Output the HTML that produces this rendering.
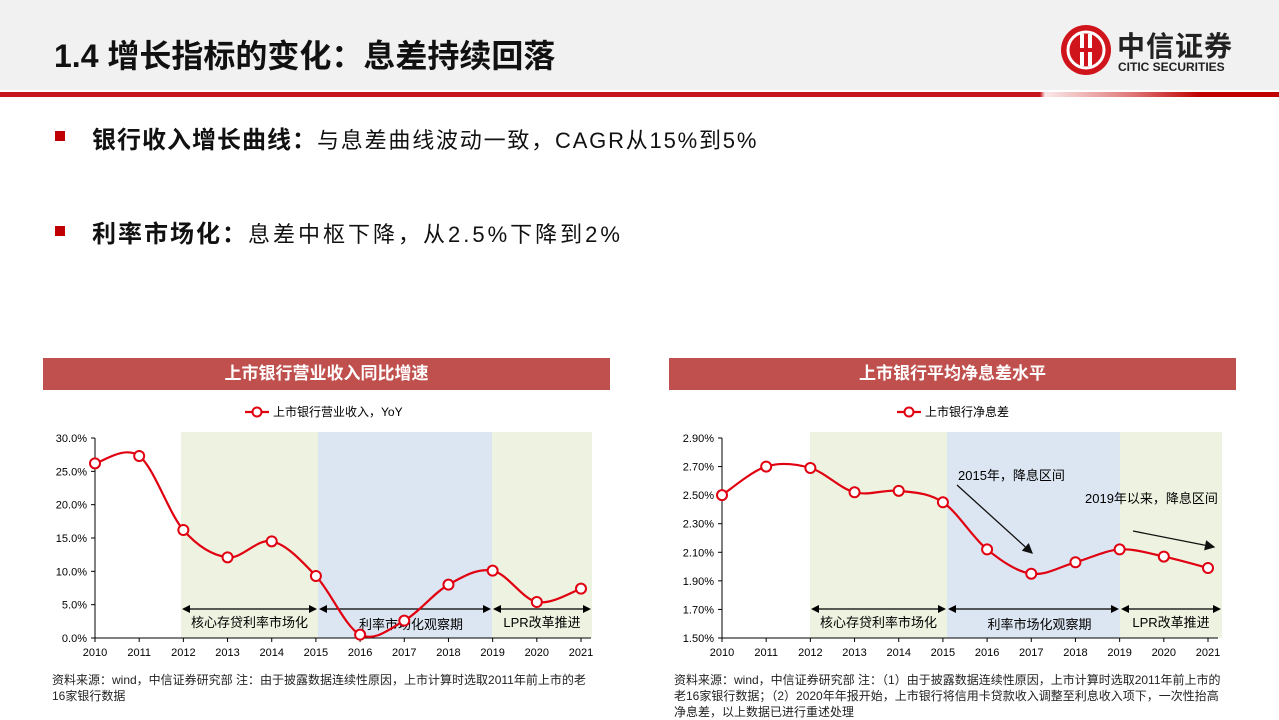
<!DOCTYPE html>
<html><head><meta charset="utf-8">
<style>
body{margin:0;width:1279px;height:719px;background:#fff;font-family:"Liberation Sans","Noto Sans CJK SC",sans-serif;position:relative;overflow:hidden}
.abs{position:absolute}
.lt{font-weight:normal;letter-spacing:1.8px}
</style></head>
<body>
<div class="abs" style="left:0;top:0;width:1279px;height:90px;background:#f1f1f1"></div>
<div class="abs" style="left:0;top:92px;width:1279px;height:5px;background:linear-gradient(90deg,#c8161d 0,#c8161d 1040px,#fbe9e9 1045px,#e07a7a 1130px,#c00000 1200px,#c00000 1279px)"></div>
<div class="abs" style="left:54px;top:31px;font-size:32px;font-weight:bold;color:#111">1.4 增长指标的变化：息差持续回落</div>
<svg class="abs" style="left:1060px;top:24px" width="52" height="52" viewBox="0 0 52 52"><circle cx="26" cy="26" r="25" fill="#d0141c"/><circle cx="26" cy="26" r="18" fill="none" stroke="#fff" stroke-width="3"/><rect x="20" y="10" width="4" height="32" fill="#fff"/><rect x="28" y="10" width="4" height="32" fill="#fff"/><rect x="12" y="24" width="28" height="4" fill="#d0141c"/></svg>
<div class="abs" style="left:1117px;top:25px;font-size:28px;font-weight:bold;color:#222;letter-spacing:1px">中信证券</div>
<div class="abs" style="left:1118px;top:60px;font-size:12px;font-weight:bold;color:#222">CITIC SECURITIES</div>

<div class="abs" style="left:55px;top:131px;width:10px;height:10px;background:#c00000"></div>
<div class="abs" style="left:92px;top:120px;font-size:22px;color:#111;white-space:nowrap"><b style="font-size:24px;letter-spacing:1px">银行收入增长曲线：</b><span class="lt">与息差曲线波动一致，CAGR从15%到5%</span></div>
<div class="abs" style="left:55px;top:226px;width:10px;height:10px;background:#c00000"></div>
<div class="abs" style="left:92px;top:214px;font-size:22px;color:#111;white-space:nowrap"><b style="font-size:24px;letter-spacing:2px">利率市场化：</b><span class="lt" style="letter-spacing:3px">息差中枢下降，从2.5%下降到2%</span></div>

<div class="abs" style="left:43px;top:358px;width:567px;height:32px;background:#c0504d;color:#fff;font-weight:bold;font-size:17px;text-align:center;line-height:32px">上市银行营业收入同比增速</div>
<div class="abs" style="left:669px;top:358px;width:567px;height:32px;background:#c0504d;color:#fff;font-weight:bold;font-size:17px;text-align:center;line-height:32px">上市银行平均净息差水平</div>

<svg class="abs" id="svg" style="left:0;top:0" width="1279" height="719"></svg>

<div class="abs" style="left:52px;top:672px;width:545px;font-size:12px;line-height:16px;color:#222">资料来源：wind，中信证券研究部 注：由于披露数据连续性原因，上市计算时选取2011年前上市的老16家银行数据</div>
<div class="abs" style="left:674px;top:672px;width:548px;font-size:12px;line-height:16px;color:#222">资料来源：wind，中信证券研究部 注：（1）由于披露数据连续性原因，上市计算时选取2011年前上市的老16家银行数据；（2）2020年年报开始，上市银行将信用卡贷款收入调整至利息收入项下，一次性抬高净息差，以上数据已进行重述处理</div>

<script>
const years=['2010','2011','2012','2013','2014','2015','2016','2017','2018','2019','2020','2021'];
const revenueYoY=[26.2,27.3,16.2,12.1,14.5,9.3,0.5,2.6,8.0,10.1,5.4,7.4];
const nimValues=[2.50,2.70,2.69,2.52,2.53,2.45,2.12,1.95,2.03,2.12,2.07,1.99];
const ticks1=[0,5,10,15,20,25,30];
const tickLabels1=['0.0%','5.0%','10.0%','15.0%','20.0%','25.0%','30.0%'];
const ticks2=[1.5,1.7,1.9,2.1,2.3,2.5,2.7,2.9];
const tickLabels2=['1.50%','1.70%','1.90%','2.10%','2.30%','2.50%','2.70%','2.90%'];
const phases=['核心存贷利率市场化','利率市场化观察期','LPR改革推进'];

const NS='http://www.w3.org/2000/svg';
const svg=document.getElementById('svg');
function mk(t,a,p){const e=document.createElementNS(NS,t);for(const k in a)e.setAttribute(k,a[k]);(p||svg).appendChild(e);return e;}

function drawChart(o){
  const g=mk('g',{});
  
  
  const x=i=>o.x0+i*(o.x1-o.x0)/(years.length-1);
  const y=v=>o.yb-(v-o.vmin)/(o.vmax-o.vmin)*(o.yb-o.yt);
  const bands=[[o.b[0],o.b[1],'#eef2e1'],[o.b[1],o.b[2],'#dce6f2'],[o.b[2],o.b[3],'#eef2e1']];
  bands.forEach((b,i)=>{const r=mk('rect',{x:b[0],y:o.yt-6,width:b[1]-b[0],height:o.yb-o.yt+6,fill:b[2]},g);
    
    });
  mk('line',{x1:o.x0,y1:o.yt,x2:o.x0,y2:o.yb,stroke:'#000','stroke-width':1},g);
  mk('line',{x1:o.x0,y1:o.yb,x2:o.x1+10,y2:o.yb,stroke:'#000','stroke-width':1},g);
  o.ticks.forEach((t,i)=>{mk('line',{x1:o.x0-4,y1:y(t),x2:o.x0,y2:y(t),stroke:'#000'},g);
    const tx=mk('text',{x:o.x0-8,y:y(t)+4,'text-anchor':'end','font-size':11,fill:'#000'},g);tx.textContent=o.labels[i];
    
    });
  years.forEach((yr,i)=>{mk('line',{x1:x(i),y1:o.yb,x2:x(i),y2:o.yb+4,stroke:'#000'},g);
    const tx=mk('text',{x:x(i),y:o.yb+18,'text-anchor':'middle','font-size':11,fill:'#000'},g);tx.textContent=yr;
    
    });
  const ay=o.yb-29;
  for(let i=0;i<3;i++){const a=o.b[i]+1,b=o.b[i+1]-1;
    mk('line',{x1:a+6,y1:ay,x2:b-6,y2:ay,stroke:'#000','stroke-width':1.3},g);
    mk('polygon',{points:`${a},${ay} ${a+8},${ay-4} ${a+8},${ay+4}`,fill:'#000'},g);
    mk('polygon',{points:`${b},${ay} ${b-8},${ay-4} ${b-8},${ay+4}`,fill:'#000'},g);
    const tx=mk('text',{x:(a+b)/2+(i==1?6:0),y:ay+(i==1?20:18),'text-anchor':'middle','font-size':13,fill:'#000'},g);tx.textContent=phases[i];
    
    }
  const pts=o.data.map((v,i)=>[x(i),y(v)]);
  let d='M'+pts[0][0]+','+pts[0][1];
  for(let i=0;i<pts.length-1;i++){const p0=pts[i-1]||pts[i],p1=pts[i],p2=pts[i+1],p3=pts[i+2]||p2;
    d+=` C${p1[0]+(p2[0]-p0[0])/6},${p1[1]+(p2[1]-p0[1])/6} ${p2[0]-(p3[0]-p1[0])/6},${p2[1]-(p3[1]-p1[1])/6} ${p2[0]},${p2[1]}`;}
  const ln=mk('path',{d:d,fill:'none',stroke:'#e00010','stroke-width':2.2},g);
  
  
  pts.forEach(p=>{const c=mk('circle',{cx:p[0],cy:p[1],r:5,fill:'#fff',stroke:'#e00010','stroke-width':2},g);
    
    });
  const lx=o.legX;
  mk('line',{x1:lx,y1:412,x2:lx+24,y2:412,stroke:'#e00010','stroke-width':2.2},g);
  mk('circle',{cx:lx+12,cy:412,r:4.5,fill:'#fff',stroke:'#e00010','stroke-width':2},g);
  const lt=mk('text',{x:lx+28,y:416,'font-size':12,fill:'#000'},g);lt.textContent=o.legend;
  
  
  return {g,x,y};
}
drawChart({name:'revenue-chart',x0:95,x1:581,yt:438,yb:638,vmin:0,vmax:30,ticks:ticks1,labels:tickLabels1,b:[181,318,492,592],data:revenueYoY,legX:245,legend:'上市银行营业收入，YoY'});
drawChart({name:'nim-chart',x0:722,x1:1208,yt:438,yb:638,vmin:1.5,vmax:2.9,ticks:ticks2,labels:tickLabels2,b:[810,947,1120,1222],data:nimValues,legX:897,legend:'上市银行净息差'});
mk('defs',{}).innerHTML='<marker id="ah" markerWidth="8" markerHeight="8" refX="7" refY="4" orient="auto"><path d="M0,0 L8,4 L0,8 z" fill="#111"/></marker>';
const a1=mk('line',{x1:957,y1:485,x2:1032,y2:553,stroke:'#111','stroke-width':1.3,'marker-end':'url(#ah)'});


const a2=mk('line',{x1:1133,y1:531,x2:1214,y2:547,stroke:'#111','stroke-width':1.3,'marker-end':'url(#ah)'});


const t1=mk('text',{x:958,y:480,'font-size':13,fill:'#000'});t1.textContent='2015年，降息区间';


const t2=mk('text',{x:1085,y:503,'font-size':13,fill:'#000'});t2.textContent='2019年以来，降息区间';


</script>
</body></html>
